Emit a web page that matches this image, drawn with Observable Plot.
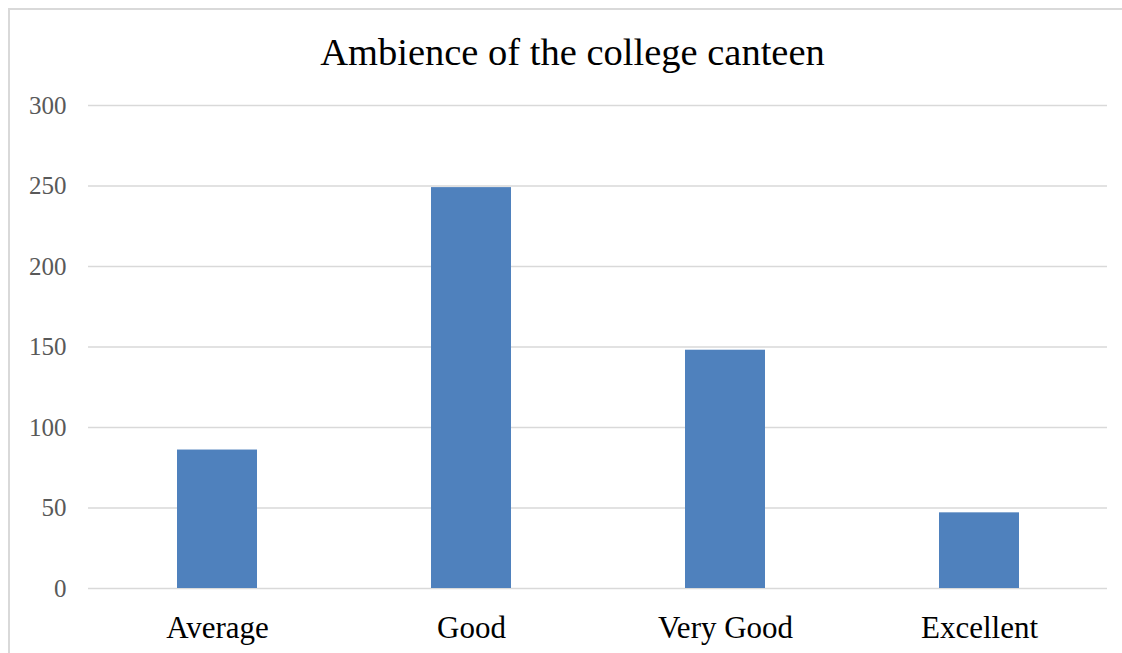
<!DOCTYPE html>
<html>
<head>
<meta charset="utf-8">
<script src="https://cdn.jsdelivr.net/npm/d3@7"></script>
<script src="https://cdn.jsdelivr.net/npm/@observablehq/plot@0.6"></script>
<style>
  html, body { margin: 0; padding: 0; background: #fff; overflow: hidden; }
  #wrap { position: relative; width: 1122px; height: 653px; }
  #frame { position: absolute; left: 8px; top: 8px; width: 1200px; height: 700px;
           border-left: 2px solid #d9d9d9; border-top: 2px solid #d9d9d9; }
  #title { position: absolute; left: 0; top: 30px; width: 1145px; text-align: center;
           font-family: "Liberation Serif", serif; font-size: 38.5px; color: #000; }
  #chart { position: absolute; left: 0; top: 0; }
</style>
</head>
<body>
<div id="wrap">
  <div id="frame"></div>
  <div id="chart"></div>
  <div id="title">Ambience of the college canteen</div>
</div>
<script>
const categories = ["Average", "Good", "Very Good", "Excellent"];
const values = [86, 249, 148, 47];
const yTicks = [0, 50, 100, 150, 200, 250, 300];

const data = categories.map((c, i) => ({category: c, value: values[i]}));

const chart = Plot.plot({
  width: 1122,
  height: 653,
  marginLeft: 88,
  marginRight: 15,
  marginTop: 105,
  marginBottom: 65,
  style: {background: "transparent", fontFamily: "'Liberation Serif', serif"},
  x: {domain: categories, paddingInner: 0.686, paddingOuter: 0.343, label: null},
  y: {domain: [0, 300], label: null},
  marks: [
    Plot.gridY(yTicks, {stroke: "#d9d9d9", strokeOpacity: 1, strokeWidth: 1.5}),
    Plot.barY(data, {x: "category", y: "value", fill: "#4F81BD"}),
    Plot.axisY(yTicks, {tickSize: 0, tickPadding: 22, fontSize: 25, fill: "#595959", label: null}),
    Plot.axisX({tickSize: 0, tickPadding: 27, fontSize: 31, fill: "#000", label: null})
  ]
});
document.getElementById("chart").appendChild(chart);
</script>
</body>
</html>
